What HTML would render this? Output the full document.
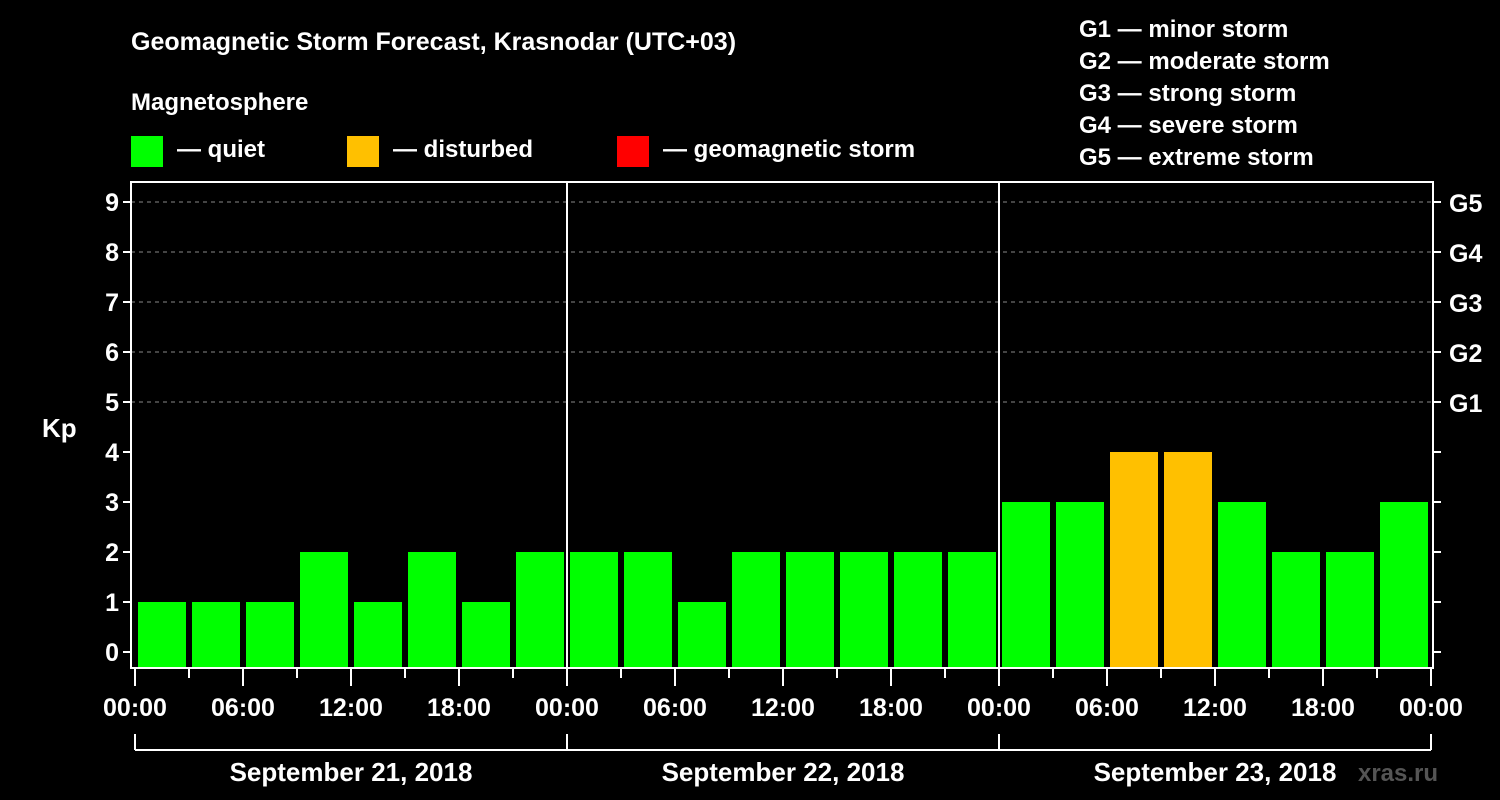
<!DOCTYPE html>
<html><head><meta charset="utf-8"><style>
html,body{margin:0;padding:0;background:#000;}
svg{display:block;font-family:"Liberation Sans",Arial,sans-serif;font-weight:bold;}
</style></head><body>
<svg id="chart" width="1500" height="800" viewBox="0 0 1500 800" xmlns="http://www.w3.org/2000/svg">
<rect x="0" y="0" width="1500" height="800" fill="#000"/>
<text x="131" y="50" fill="#fff" font-size="25">Geomagnetic Storm Forecast, Krasnodar (UTC+03)</text>
<text x="131" y="110" fill="#fff" font-size="24">Magnetosphere</text>
<g><rect x="131" y="136" width="32" height="31" fill="#00ff00"/><text x="177" y="157" fill="#fff" font-size="24">— quiet</text></g>
<g><rect x="347" y="136" width="32" height="31" fill="#ffc000"/><text x="393" y="157" fill="#fff" font-size="24">— disturbed</text></g>
<g><rect x="617" y="136" width="32" height="31" fill="#ff0000"/><text x="663" y="157" fill="#fff" font-size="24">— geomagnetic storm</text></g>
<g fill="#fff" font-size="24">
<text x="1079" y="37">G1 — minor storm</text>
<text x="1079" y="69">G2 — moderate storm</text>
<text x="1079" y="101">G3 — strong storm</text>
<text x="1079" y="133">G4 — severe storm</text>
<text x="1079" y="165">G5 — extreme storm</text>
</g>
<text x="42" y="437" fill="#fff" font-size="26">Kp</text>
<g id="grid"></g><g id="bars"></g><g id="axes"></g>
<text x="1398" y="781" fill="#555" font-size="24" text-anchor="middle">xras.ru</text>
</svg>
<script>
const kpValues=[1,1,1,2,1,2,1,2, 2,2,1,2,2,2,2,2, 3,3,4,4,3,2,2,3];
const dayLabels=["September 21, 2018","September 22, 2018","September 23, 2018"];
const hourLabels=["00:00","06:00","12:00","18:00"];
const kpTicks=[0,1,2,3,4,5,6,7,8,9];
const gLabels=["G1","G2","G3","G4","G5"];
const NS="http://www.w3.org/2000/svg";
const X0=135,HW=18,L=131,R=1433,T=182,B=668;
const xS=h=>X0+h*HW;
const yS=k=>652-k*50;
function mk(tag,attrs,parent,txt){const e=document.createElementNS(NS,tag);for(const k in attrs)e.setAttribute(k,attrs[k]);if(txt!==undefined)e.textContent=txt;parent.appendChild(e);return e;}
const grid=document.getElementById('grid'),bars=document.getElementById('bars'),axes=document.getElementById('axes');
kpTicks.forEach(k=>{
 if(k>=5){const g=mk('line',{x1:L,x2:R,y1:yS(k),y2:yS(k),stroke:'#888','stroke-width':1,'stroke-dasharray':'4,4'},grid);
 
 }
 const t=mk('line',{x1:L-8,x2:L,y1:yS(k),y2:yS(k),stroke:'#fff','stroke-width':2},axes);
 
 
 const lb=mk('text',{x:L-12,y:yS(k)+9,fill:'#fff','font-size':25,'text-anchor':'end'},axes,String(k));
 
 
 const rt=mk('line',{x1:R,x2:R+8,y1:yS(k),y2:yS(k),stroke:'#fff','stroke-width':2},axes);
 
 
});
gLabels.forEach((g,i)=>{const t=mk('text',{x:R+16,y:yS(5+i)+10,fill:'#fff','font-size':25},axes,g);
 
 });
kpValues.forEach((v,i)=>{
 const col=v>=5?'#ff0000':(v>=4?'#ffc000':'#00ff00');
 const x=xS(i*3)+3;
 const b=mk('rect',{x:x,y:yS(v),width:48,height:B-yS(v),fill:col},bars);
 
 
});
mk('rect',{x:L,y:T,width:R-L,height:B-T,fill:'none',stroke:'#fff','stroke-width':2},axes);
for(let d=1;d<dayLabels.length;d++){const l=mk('line',{x1:xS(d*24),x2:xS(d*24),y1:T,y2:B,stroke:'#fff','stroke-width':2},axes);
 
 }
for(let h=0;h<=dayLabels.length*24;h+=3){
 const major=h%6===0;
 const t=mk('line',{x1:xS(h),x2:xS(h),y1:B,y2:major?686:678,stroke:'#fff','stroke-width':2},axes);
 
 
}
for(let d=0;d<=dayLabels.length;d++){
 hourLabels.forEach((lab,j)=>{
  if(d===dayLabels.length&&j>0)return;
  const h=d*24+j*6;
  const t=mk('text',{x:xS(h),y:716,fill:'#fff','font-size':25,'text-anchor':'middle'},axes,lab);
  
  
 });
}
mk('line',{x1:xS(0),x2:xS(dayLabels.length*24),y1:750,y2:750,stroke:'#fff','stroke-width':2},axes);
for(let d=0;d<=dayLabels.length;d++){mk('line',{x1:xS(d*24),x2:xS(d*24),y1:734,y2:750,stroke:'#fff','stroke-width':2},axes);}
dayLabels.forEach((lab,d)=>{
 const t=mk('text',{x:xS(d*24+12),y:781,fill:'#fff','font-size':26,'text-anchor':'middle'},axes,lab);
 
 
});
</script>
</body></html>
